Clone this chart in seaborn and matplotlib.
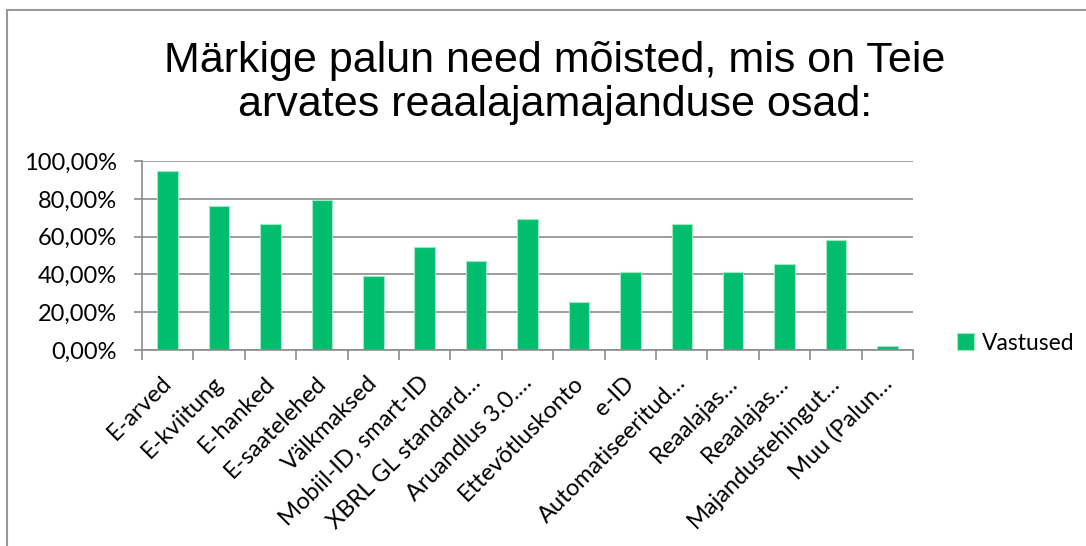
import seaborn as sns
import matplotlib.pyplot as plt
import pandas as pd
from matplotlib.patches import Rectangle
from matplotlib.ticker import FuncFormatter, FixedLocator

# Andmed
categories = ["E-arved", "E-kviitung", "E-hanked", "E-saatelehed", "Välkmaksed",
              "Mobiil-ID, smart-ID", "XBRL GL standard…", "Aruandlus 3.0.…",
              "Ettevõtluskonto", "e-ID", "Automatiseeritud…", "Reaalajas…",
              "Reaalajas…", "Majandustehingut…", "Muu (Palun…"]
values = [94.7, 76.2, 66.7, 79.5, 39.3, 54.7, 47.1, 69.2, 25.2, 41.1, 66.5, 41.1, 45.3, 58.4, 2.1]
series_name = "Vastused"
title = "Märkige palun need mõisted, mis on Teie\narvates reaalajamajanduse osad:"

df = pd.DataFrame({"pos": range(len(categories)), "value": values})

sns.set_style("white")
plt.rcParams['font.family'] = ['Lato', 'DejaVu Sans']
plt.rcParams['text.color'] = 'black'
plt.rcParams['xtick.color'] = 'black'
plt.rcParams['ytick.color'] = 'black'

green = "#00BE6E"
grid_c = "#8c8c8c"

fig = plt.figure(figsize=(10.86, 5.46), dpi=100)
ax = fig.add_axes([0.1308, 0.359, 0.710, 0.346])

sns.barplot(data=df, x="pos", y="value", color=green, width=0.4,
            edgecolor="#9ee8c6", linewidth=0.8, label=series_name, ax=ax, saturation=1)

ax.set_ylim(0, 100)
ax.set_xlim(-0.5, len(categories) - 0.5)
ax.set_yticks([0, 20, 40, 60, 80, 100])
ax.yaxis.set_major_formatter(FuncFormatter(lambda v, p: f"{v:.2f}".replace(".", ",") + "%"))
ax.grid(axis="y", color=grid_c, linewidth=1.2)
ax.set_axisbelow(True)

# sildid veidi vasakule nihutatud nagu Excelis
ax.set_xticks([i - 0.13 for i in range(len(categories))])
ax.set_xticklabels(categories, rotation=45, ha="right", rotation_mode="anchor", fontsize=17)
ax.xaxis.set_minor_locator(FixedLocator([i - 0.5 for i in range(len(categories) + 1)]))
ax.tick_params(axis="x", which="major", length=0, pad=16)
ax.tick_params(axis="x", which="minor", length=7, color=grid_c, width=1.2, direction="out", bottom=True)
ax.tick_params(axis="y", length=6, color=grid_c, width=1.2, direction="out", left=True, labelsize=17, pad=12)
ax.set_xlim(-0.5, len(categories) - 0.5)
ax.set_xlabel("")
ax.set_ylabel("")

for s in ["top", "right"]:
    ax.spines[s].set_visible(False)
for s in ["left", "bottom"]:
    ax.spines[s].set_color(grid_c)
    ax.spines[s].set_linewidth(1.2)

ax.legend(loc="center left", bbox_to_anchor=(1.03, 0.035), frameon=False, fontsize=16.5,
          handlelength=0.75, handleheight=0.75, handletextpad=0.35)

fig.text(555 / 1086, 1 - 83 / 546, title, ha="center", va="center", fontsize=31,
         family=["Liberation Sans", "DejaVu Sans"], linespacing=1.1)

# raam ümber diagrammi
fig.add_artist(Rectangle((7 / 1086, -0.05), 1.1, 1.05 - 10 / 546, transform=fig.transFigure,
                         fill=False, edgecolor="#999999", linewidth=1.5))

fig.savefig("out.png", dpi=100)
